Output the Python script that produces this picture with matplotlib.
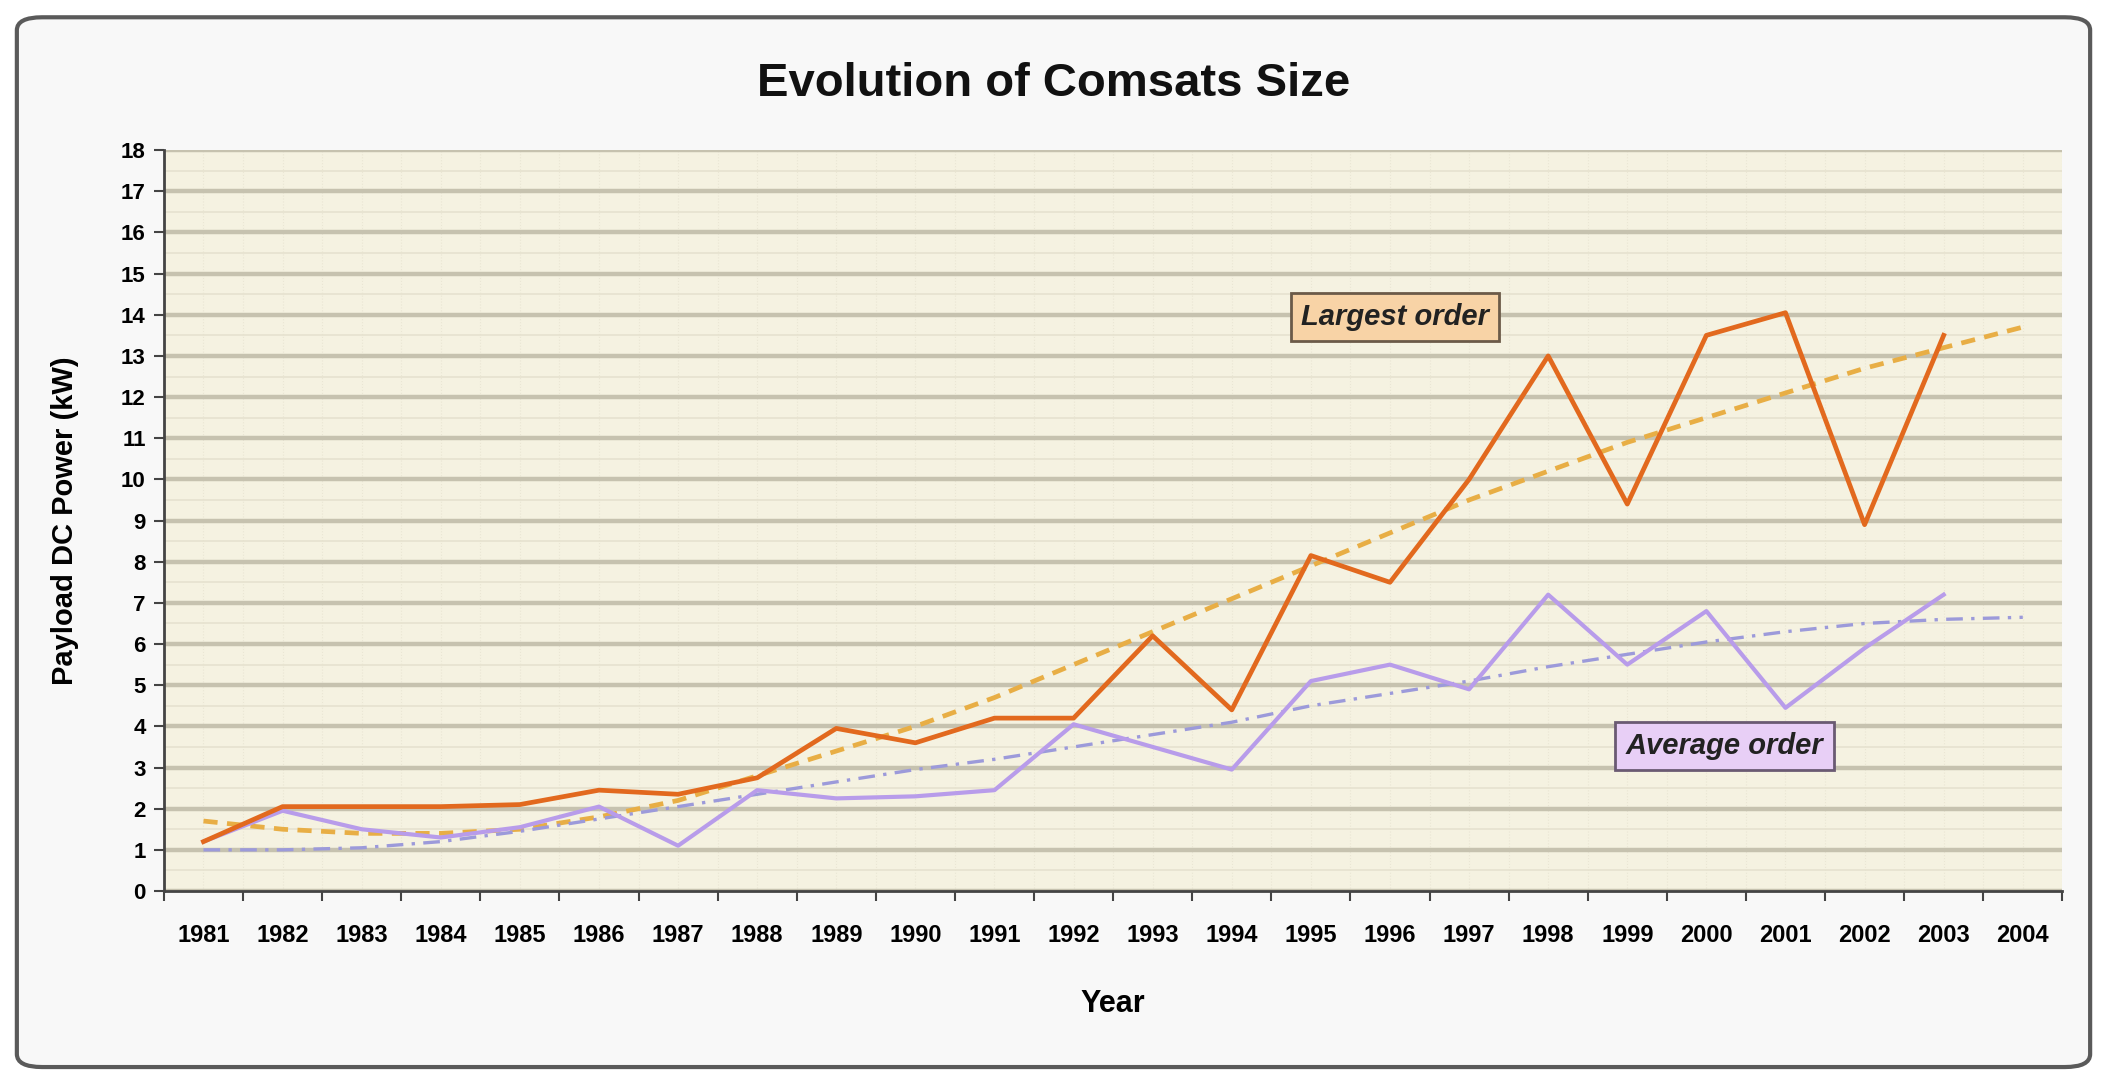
"""
Evolution of Comsats Size - payload DC power of the largest and the average order
"""
import matplotlib
matplotlib.use('Agg')
import matplotlib.pyplot as plt
from matplotlib.patches import FancyBboxPatch
from matplotlib.ticker import FixedLocator, MultipleLocator
import numpy as np

plt.rcParams['font.family'] = ['Liberation Sans', 'DejaVu Sans']

# data (kW)
years = ['1981', '1982', '1983', '1984', '1985', '1986', '1987', '1988', '1989', '1990',
         '1991', '1992', '1993', '1994', '1995', '1996', '1997', '1998', '1999', '2000',
         '2001', '2002', '2003', '2004']
largest = [1.2, 2.05, 2.05, 2.05, 2.1, 2.45, 2.35, 2.75, 3.95, 3.6,
           4.2, 4.2, 6.2, 4.4, 8.15, 7.5, 10.0, 13.0, 9.4, 13.5,
           14.05, 8.9, 13.5]
average = [1.2, 1.95, 1.5, 1.3, 1.55, 2.05, 1.1, 2.45, 2.25, 2.3,
           2.45, 4.05, 3.5, 2.95, 5.1, 5.5, 4.9, 7.2, 5.5, 6.8,
           4.45, 5.9, 7.2]
largest_trend = [1.7, 1.5, 1.4, 1.4, 1.5, 1.8, 2.2, 2.8, 3.4, 4.0,
                 4.7, 5.5, 6.3, 7.1, 7.9, 8.7, 9.5, 10.2, 10.9, 11.5,
                 12.1, 12.7, 13.2, 13.7]
average_trend = [1.0, 1.0, 1.05, 1.2, 1.45, 1.75, 2.05, 2.35, 2.65, 2.95,
                 3.2, 3.5, 3.8, 4.1, 4.5, 4.8, 5.1, 5.45, 5.75, 6.05,
                 6.3, 6.5, 6.6, 6.65]

ORANGE = '#E2691E'
LAVENDER = '#B89CEA'

fig = plt.figure(figsize=(21.07, 10.80), dpi=100, facecolor='white')

# rounded outer frame like the Excel chart area (behind the axes)
frame = FancyBboxPatch((0.008, 0.012), 0.984, 0.972, boxstyle='round,pad=0,rounding_size=0.012',
                       transform=fig.transFigure, facecolor='#F8F8F8', edgecolor='#5A5A5A',
                       linewidth=3, zorder=-5)
fig.patches.append(frame)

ax = fig.add_axes([0.0778, 0.175, 0.901, 0.686])
ax.set_zorder(2)
ax.set_facecolor('#F5F2E1')

x_all = np.arange(len(years))
x_data = np.arange(len(largest))

# grid
ax.yaxis.set_major_locator(MultipleLocator(1))
ax.yaxis.set_minor_locator(MultipleLocator(0.5))
ax.grid(axis='y', which='major', color='#C6C2AF', linewidth=3.2, zorder=1)
ax.grid(axis='y', which='minor', color='#E6E2CF', linewidth=1.2, zorder=1)
for b in np.arange(-0.5, len(years), 0.5):
    ax.axvline(b, color='#EAE6D4', linewidth=0.8, linestyle=':', zorder=1)

# trend lines
ax.plot(x_all, largest_trend, color='#E8AE45', linewidth=3.4, dashes=(3, 2), zorder=3)
ax.plot(x_all, average_trend, color='#9C9ADA', linewidth=2.4, dashes=(5, 2.5, 1, 2.5), zorder=3)

# series
ax.plot(x_data, average, color=LAVENDER, linewidth=3, zorder=4)
ax.plot(x_data, largest, color=ORANGE, linewidth=3.4, zorder=5)

ax.set_xlim(-0.5, len(years) - 0.5)
ax.set_ylim(0, 18)

# category axis: labels centred, tick marks between categories
ax.set_xticks(x_all)
ax.set_xticklabels(years, fontsize=17, fontweight='bold')
ax.xaxis.set_minor_locator(FixedLocator(np.arange(-0.5, len(years), 1)))
ax.tick_params(axis='x', which='major', length=0, pad=24)
ax.tick_params(axis='x', which='minor', length=7, width=1.5, color='#444444', direction='out')
ax.tick_params(axis='y', which='major', length=7, width=1.5, color='#444444',
               direction='out', labelsize=16, pad=6)
ax.tick_params(axis='y', which='minor', length=0)
for lab in ax.get_yticklabels():
    lab.set_fontweight('bold')

for side in ['top', 'right']:
    ax.spines[side].set_visible(False)
for side in ['left', 'bottom']:
    ax.spines[side].set_color('#444444')
    ax.spines[side].set_linewidth(2)

ax.set_xlabel('Year', fontsize=22, fontweight='bold', labelpad=30)
ax.set_ylabel('Payload DC Power (kW)', fontsize=21, fontweight='bold', labelpad=30)

fig.text(0.5, 0.922, 'Evolution of Comsats Size', ha='center', va='center',
         fontsize=34, fontweight='bold', color='#111111')

# series labels
ax.text(15.06, 13.94, 'Largest order', ha='center', va='center', fontsize=21,
        fontweight='bold', style='italic', color='#222222', zorder=6,
        bbox=dict(boxstyle='square,pad=0.35', facecolor='#F8D3A6', edgecolor='#6B5A48', linewidth=2))
ax.text(19.23, 3.52, 'Average order', ha='center', va='center', fontsize=21,
        fontweight='bold', style='italic', color='#222222', zorder=6,
        bbox=dict(boxstyle='square,pad=0.35', facecolor='#E8CFF6', edgecolor='#6A5A72', linewidth=2))

fig.savefig('out.png', dpi=100, facecolor='white')
plt.close(fig)
